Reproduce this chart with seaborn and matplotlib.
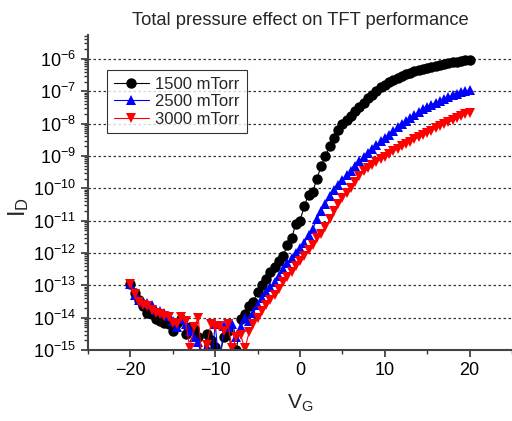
import numpy as np
import pandas as pd
import seaborn as sns
import matplotlib
matplotlib.use('Agg')
import matplotlib.pyplot as plt

# gate voltage sweep, 0.5 V steps
vg = np.arange(-20, 20.5, 0.5)

# log10 of drain current
log_id_1500 = [-12.95, -13.25, -13.45, -13.65, -13.85, -13.9, -14.05, -14.1, -14.15, -14.2, -14.4,
               -14.15, -14.05, -14.5, -14.3, -14.35, -14.6, -15.3, -14.5, -14.7, -14.9,
               -15.2, -14.6, -14.4, -15.1, -15.0, -14.05, -13.9, -13.65, -13.5, -13.2,
               -12.98, -12.8, -12.6, -12.42, -12.25, -12.1, -11.75, -11.55, -11.1, -11.0,
               -10.55, -10.2, -10.1, -9.7, -9.3, -9.0, -8.7, -8.45, -8.2, -8.0,
               -7.88, -7.75, -7.6, -7.48, -7.35, -7.2, -7.1, -7.0, -6.88, -6.8,
               -6.72, -6.65, -6.58, -6.52, -6.47, -6.42, -6.38, -6.34, -6.3, -6.27,
               -6.24, -6.21, -6.18, -6.15, -6.12, -6.1, -6.08, -6.06, -6.04, -6.03]
log_id_2500 = [-12.95, -13.3, -13.45, -13.5, -13.55, -13.6, -13.75, -13.8, -13.85, -13.95, -14.1,
               -14.3, -14.05, -14.2, -14.4, -14.6, -14.75, -15.4, -14.9, -15.5, -14.2,
               -15.6, -14.25, -14.3, -14.2, -14.6, -14.3, -14.0, -14.1, -13.85, -13.6,
               -13.4, -13.22, -13.05, -12.9, -12.7, -12.5, -12.3, -12.15, -12.0, -11.85,
               -11.7, -11.45, -11.25, -10.95, -10.7, -10.5, -10.25, -10.05, -9.9, -9.75,
               -9.6, -9.45, -9.3, -9.15, -9.02, -8.9, -8.78, -8.66, -8.55, -8.45,
               -8.34, -8.22, -8.12, -8.02, -7.92, -7.82, -7.73, -7.64, -7.56, -7.48,
               -7.41, -7.35, -7.29, -7.23, -7.18, -7.12, -7.07, -7.03, -7.0, -6.97]
log_id_3000 = [-12.95, -13.28, -13.5, -13.6, -13.65, -13.75, -13.85, -13.9, -13.95, -13.97, -14.15,
               -14.2, -13.97, -14.1, -14.95, -14.3, -14.0, -15.5, -14.85, -14.2, -14.3,
               -14.25, -14.4, -14.2, -14.95, -14.6, -14.55, -14.95, -14.45, -14.2, -14.0,
               -13.8, -13.6, -13.45, -13.3, -13.1, -12.9, -12.75, -12.58, -12.4, -12.25,
               -12.1, -11.9, -11.75, -11.55, -11.4, -11.2, -10.95, -10.7, -10.5, -10.3,
               -10.15, -10.0, -9.8, -9.62, -9.48, -9.37, -9.28, -9.2, -9.1, -9.02,
               -8.93, -8.85, -8.77, -8.7, -8.63, -8.56, -8.49, -8.42, -8.36, -8.29,
               -8.22, -8.15, -8.08, -8.01, -7.95, -7.89, -7.83, -7.77, -7.71, -7.66]

labels = ['1500 mTorr', '2500 mTorr', '3000 mTorr']
colors = ['black', 'blue', 'red']
markers = ['o', '^', 'v']

sns.set_style('ticks')
plt.rcParams['font.family'] = ['Liberation Sans', 'DejaVu Sans']
plt.rcParams['mathtext.fontset'] = 'custom'
plt.rcParams['mathtext.rm'] = 'Liberation Sans'
plt.rcParams['mathtext.it'] = 'Liberation Sans'

fig = plt.figure(figsize=(5.12, 4.21), dpi=100)
ax = fig.add_axes([0.172, 0.1686, 0.828, 0.7483])

for logs, lab, c, m in zip([log_id_1500, log_id_2500, log_id_3000], labels, colors, markers):
    df = pd.DataFrame({'VG': vg, 'ID': 10.0 ** np.array(logs)})
    sns.lineplot(data=df, x='VG', y='ID', ax=ax, color=c, marker=m, markersize=7.5,
                 markeredgewidth=0, linewidth=0.8, label=lab)

ax.set_yscale('log')
ax.set_xlim(-25, 25)
ax.set_ylim(1e-15, 5.5e-6)
ax.set_xticks([-20, -10, 0, 10, 20])
ax.set_xticks([-25, -15, -5, 5, 15, 25], minor=True)
ax.set_yticks([10.0 ** k for k in range(-15, -5)])
ax.yaxis.set_minor_locator(matplotlib.ticker.LogLocator(base=10, subs=np.arange(2, 10), numticks=30))
ax.yaxis.set_minor_formatter(matplotlib.ticker.NullFormatter())

for k in range(-14, -5):
    ax.axhline(10.0 ** k, color='#333333', linestyle=(0, (2, 2)), linewidth=0.9, zorder=0)

ax.tick_params(axis='both', which='major', labelsize=13, direction='out', length=5, width=1.2, colors='#333333', labelcolor='black')
ax.tick_params(axis='both', which='minor', direction='out', length=3, width=1, colors='#333333')
sns.despine(ax=ax)
for s in ['left', 'bottom']:
    ax.spines[s].set_linewidth(1.5)
    ax.spines[s].set_color('#444444')

ax.set_title('Total pressure effect on TFT performance', fontsize=13.2, pad=7)
ax.set_xlabel(r'$\mathregular{V_G}$', fontsize=15, labelpad=10)
ax.set_ylabel(r'$\mathregular{I_D}$', fontsize=17)
ax.yaxis.set_label_coords(-0.135, 0.455)

leg = ax.legend(loc='upper left', bbox_to_anchor=(0.045, 0.889), fontsize=12, frameon=True,
                fancybox=False, edgecolor='black', handlelength=2.1, labelspacing=0.15,
                borderpad=0.4, handletextpad=0.4, borderaxespad=0)
leg.get_frame().set_linewidth(0.8)

fig.savefig('out.png', dpi=100)
